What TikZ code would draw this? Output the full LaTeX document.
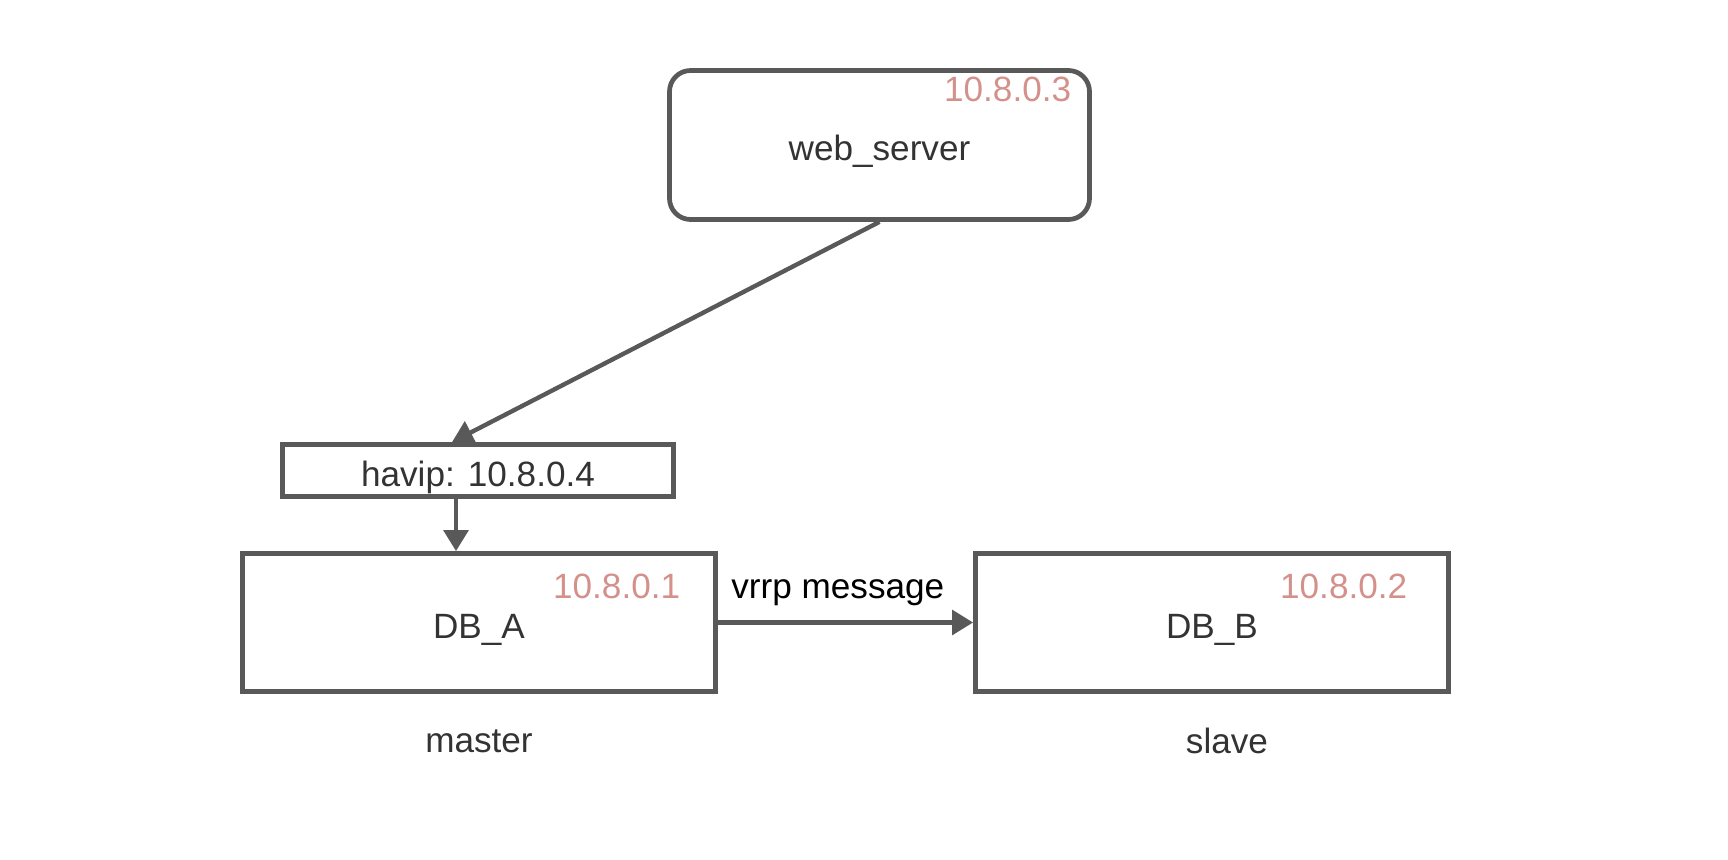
\documentclass[tikz,border=0pt]{standalone}
\usepackage{fontspec}
\setmainfont{Liberation Sans}
\usetikzlibrary{arrows.meta}
\usetikzlibrary{positioning}

\definecolor{boxgray}{RGB}{89,89,89}
\definecolor{txtgray}{RGB}{51,51,51}
\definecolor{ippink}{RGB}{212,145,140}

\begin{document}
\begin{tikzpicture}[>={Triangle[length=6pt,width=7pt]},
    host/.style={draw=boxgray, line width=1.35pt, minimum width=4.73cm, minimum height=1.38cm, text=txtgray, text height=1.1em, text depth=0.2em},
    ip/.style={text=ippink, inner sep=0pt},
    conn/.style={->, draw=boxgray, line width=1.25pt}]
    \useasboundingbox (0,0) rectangle (17.28,-8.60);

    \node[host, rounded corners=6pt, minimum width=4.20cm, minimum height=1.49cm] (web) at (8.795,-1.45) {web\_server};
    \node[ip, anchor=north east] (webip) at ([xshift=-0.20cm, yshift=-0.08cm]web.north east) {10.8.0.3};

    \node[host, inner ysep=0pt, minimum width=3.91cm, minimum height=0.52cm] (havip) at (4.78,-4.705) {havip: 10.8.0.4};

    \node[host] (dba) at (4.79,-6.225) {DB\_A};
    \node[ip, anchor=north east] (dbaip) at ([xshift=-0.37cm, yshift=-0.22cm]dba.north east) {10.8.0.1};
    \node[txtgray] (master) at ([yshift=-0.47cm]dba.south) {master};

    \node[host] (dbb) at (12.12,-6.225) {DB\_B};
    \node[ip, anchor=north east] (dbbip) at ([xshift=-0.43cm, yshift=-0.22cm]dbb.north east) {10.8.0.2};
    \node[txtgray] (slave) at ([xshift=0.15cm, yshift=-0.47cm]dbb.south) {slave};

    \draw[conn] (web.south) -- ([xshift=-0.26cm]havip.north);
    \draw[conn] ([xshift=-0.22cm]havip.south) -- ([xshift=-0.22cm]havip.south |- dba.north);
    \draw[conn] (dba.east) -- node[pos=0.47, yshift=0.30cm, text=black] (vrrp) {vrrp message} (dbb.west);

\end{tikzpicture}
\end{document}
